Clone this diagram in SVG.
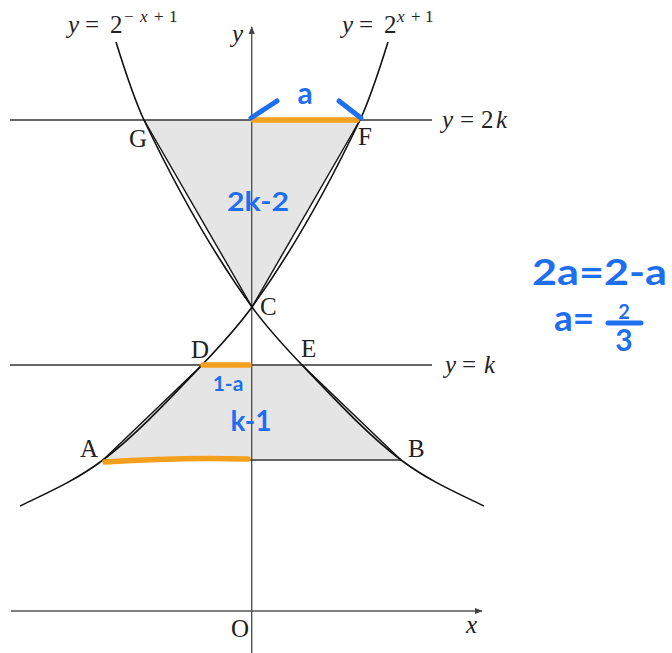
<svg xmlns="http://www.w3.org/2000/svg" width="672" height="653" viewBox="0 0 672 653">
<style>
.shade{fill:#e5e5e5;stroke:none}
.axis{stroke:#555;stroke-width:1.4;fill:none}
.hline{stroke:#333;stroke-width:1.5;fill:none}
.curve{stroke:#111;stroke-width:1.6;fill:none}
.chord{stroke:#111;stroke-width:1.4;fill:none}
.lbl{font-family:"Liberation Serif","Times New Roman",serif;font-size:25px;fill:#222}
.it{font-style:italic}
.sup{font-size:17px}
.hand{font-family:Lato,"Noto Sans",sans-serif;font-weight:bold;fill:#1e6ff0}
.blue{stroke:#1e6ff0;stroke-width:5;stroke-linecap:round;fill:none}
.orange{stroke:#f5a01c;stroke-width:5.5;stroke-linecap:round;fill:none}
</style>
<defs>
<marker id="arr" viewBox="0 0 10 10" refX="9" refY="5" markerWidth="8" markerHeight="8" markerUnits="userSpaceOnUse" orient="auto">
<path d="M0,1 L10,5 L0,9 Z" fill="#444"/>
</marker>
</defs>
<rect width="672" height="653" fill="#fff"/>

<g id="shading">
<polygon class="shade" points="144,120 360,120 252,307"/>
<polygon class="shade" points="202,365 302,365 401,460 103,460"/>
</g>

<g id="axes">
<line class="axis" x1="11" y1="611" x2="482" y2="611" marker-end="url(#arr)"/>
<line class="axis" x1="251.7" y1="653" x2="251.7" y2="27" marker-end="url(#arr)"/>
<text class="lbl it" x="232" y="42">y</text>
<text class="lbl it" x="466" y="633">x</text>
<text class="lbl" x="231" y="637">O</text>
</g>

<g id="lines">
<line class="hline" x1="10" y1="120" x2="432" y2="120"/>
<line class="hline" x1="10" y1="365" x2="432" y2="365"/>
<line class="hline" x1="103" y1="460" x2="401" y2="460"/>
<text class="lbl" y="128"><tspan class="it" x="442">y</tspan><tspan x="460">=</tspan><tspan x="481">2</tspan><tspan class="it" x="496">k</tspan></text>
<text class="lbl" y="373"><tspan class="it" x="445">y</tspan><tspan x="462">=</tspan><tspan class="it" x="484">k</tspan></text>
</g>

<g id="connectors">
<path id="curve-inc" class="curve" d="M20,506 C47.67,492.7 75.33,480.7 103,460 C136,435 169,399.6 202,365 C218.67,347.5 235.33,330 252,307 C288,257.3 324,195.6 360,120 C369.33,100.4 378.67,71.9 388,42"/>
<path id="curve-dec" class="curve" d="M484,506 C456.33,492.7 428.67,480.7 401,460 C368,435 335,399.6 302,365 C285.33,347.5 268.67,330 252,307 C216,257.3 180,195.6 144,120 C134.67,100.4 125.33,71.9 116,42"/>
<line class="chord" x1="144" y1="120" x2="252" y2="307"/>
<line class="chord" x1="360" y1="120" x2="252" y2="307"/>
<line class="chord" x1="103" y1="460" x2="202" y2="365"/>
<line class="chord" x1="401" y1="460" x2="302" y2="365"/>
</g>

<g id="curve-labels">
<text class="lbl" y="33"><tspan class="it" x="68">y</tspan><tspan x="85">=</tspan><tspan x="110">2</tspan><tspan class="sup" x="124" y="22">−</tspan><tspan class="sup it" x="140" y="22">x</tspan><tspan class="sup" x="154" y="22">+</tspan><tspan class="sup" x="169" y="22">1</tspan></text>
<text class="lbl" y="33"><tspan class="it" x="342">y</tspan><tspan x="359">=</tspan><tspan x="384">2</tspan><tspan class="sup it" x="397" y="22">x</tspan><tspan class="sup" x="411" y="22">+</tspan><tspan class="sup" x="425" y="22">1</tspan></text>
</g>

<g id="node-G"><text class="lbl" x="129" y="147">G</text></g>
<g id="node-F"><text class="lbl" x="358" y="145">F</text></g>
<g id="node-C"><text class="lbl" x="260" y="315">C</text></g>
<g id="node-D"><text class="lbl" x="191" y="358">D</text></g>
<g id="node-E"><text class="lbl" x="301" y="357">E</text></g>
<g id="node-A"><text class="lbl" x="80" y="457">A</text></g>
<g id="node-B"><text class="lbl" x="408" y="457">B</text></g>

<g id="annotations">
<path class="orange" d="M253,120 L357,120"/>
<path class="orange" d="M203,365 L249,365"/>
<path class="orange" stroke-width="6.5" d="M105,462 Q180,457 248,459"/>
<path class="blue" d="M251,118 L277,101"/>
<path class="blue" d="M339,101 L361,118"/>
<text class="hand" x="305" y="104" font-size="30" text-anchor="middle">a</text>
<text class="hand" x="258" y="211" font-size="27" text-anchor="middle" textLength="62" lengthAdjust="spacingAndGlyphs">2k-2</text>
<text class="hand" x="228" y="391" font-size="21" text-anchor="middle">1-a</text>
<text class="hand" x="251" y="431" font-size="28" text-anchor="middle">k-1</text>
<text class="hand" x="532" y="285" font-size="37" textLength="135" lengthAdjust="spacingAndGlyphs">2a=2-a</text>
<text class="hand" x="554" y="331" font-size="37">a=</text>
<text class="hand" x="624" y="319" font-size="20" text-anchor="middle">2</text>
<line class="blue" x1="608" y1="323" x2="641" y2="323" stroke-width="4"/>
<text class="hand" x="624" y="351" font-size="30" text-anchor="middle">3</text>
</g>
</svg>
